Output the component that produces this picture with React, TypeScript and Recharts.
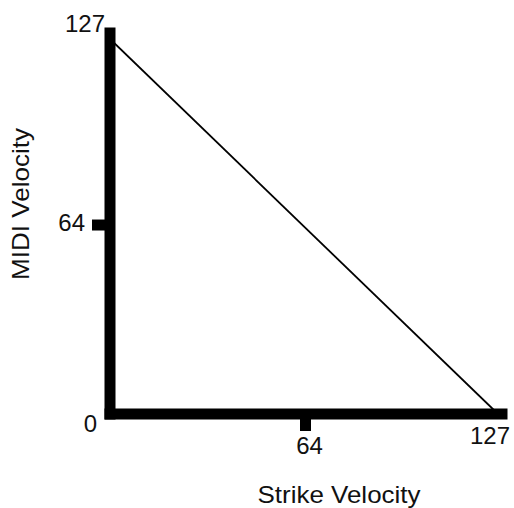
import { LineChart, Line, XAxis, YAxis } from "recharts";

const strikeVelocity = [0, 127];
const midiVelocity = [127, 0];
const xTicks = [64, 127];
const yTicks = [0, 64, 127];

const data = strikeVelocity.map((x, i) => ({ x, y: midiVelocity[i] }));

const FONT = '"Liberation Sans", Arial, sans-serif';
const textStyle = { fontFamily: FONT, fontSize: 24 };

const XTick = ({ x, y, payload }: any) => {
  const v = payload.value;
  return (
    <g>
      {v === 64 && <line x1={x} y1={y} x2={x} y2={y + 17} stroke="#000" strokeWidth={11} />}
      <text
        x={v === 64 ? x + 4 : x - 8}
        y={v === 64 ? y + 40 : y + 30}
        textAnchor="middle"
        style={textStyle}
        fill="#111"
      >
        {v}
      </text>
    </g>
  );
};

const YTick = ({ x, y, payload }: any) => {
  const v = payload.value;
  const dx = v === 0 ? -13 : v === 64 ? -25 : -5;
  const dy = v === 0 ? 18 : v === 64 ? 6 : -7;
  return (
    <g>
      {v === 64 && <line x1={x - 18} y1={y} x2={x} y2={y} stroke="#000" strokeWidth={11} />}
      <text x={x + dx} y={y + dy} textAnchor="end" style={textStyle} fill="#111">
        {v}
      </text>
    </g>
  );
};

export default function App() {
  return (
    <div style={{ position: "absolute", left: 0, top: 0, background: "#fff" }}>
      <LineChart
        width={514}
        height={508}
        data={data}
        margin={{ top: 33, right: 12, bottom: 34, left: 50 }}
      >
        <XAxis
          type="number"
          dataKey="x"
          domain={[0, 128.31]}
          ticks={xTicks}
          allowDataOverflow
          height={60}
          tickSize={0}
          tickMargin={0}
          tickLine={false}
          tick={<XTick />}
          axisLine={{ stroke: "#000", strokeWidth: 11, strokeLinecap: "square" }}
          label={({ viewBox }: any) => (
            <text
              x={viewBox.x + viewBox.width / 2 + 33}
              y={503}
              textAnchor="middle"
              textLength={163}
              lengthAdjust="spacingAndGlyphs"
              style={textStyle}
              fill="#111"
            >
              Strike Velocity
            </text>
          )}
        />
        <YAxis
          type="number"
          dataKey="y"
          domain={[0, 129.03]}
          ticks={yTicks}
          allowDataOverflow
          width={60}
          tickSize={0}
          tickMargin={0}
          tickLine={false}
          tick={<YTick />}
          axisLine={{ stroke: "#000", strokeWidth: 11, strokeLinecap: "square" }}
          label={({ viewBox }: any) => {
            const cx = 28.5;
            const cy = viewBox.y + viewBox.height / 2 - 19.5;
            return (
              <text
                x={cx}
                y={cy}
                transform={`rotate(-90 ${cx} ${cy})`}
                textAnchor="middle"
                textLength={152}
                lengthAdjust="spacingAndGlyphs"
                style={textStyle}
                fill="#111"
              >
                MIDI Velocity
              </text>
            );
          }}
        />
        <Line
          type="linear"
          dataKey="y"
          stroke="#000"
          strokeWidth={1.8}
          dot={false}
          activeDot={false}
          isAnimationActive={false}
        />
      </LineChart>
    </div>
  );
}
